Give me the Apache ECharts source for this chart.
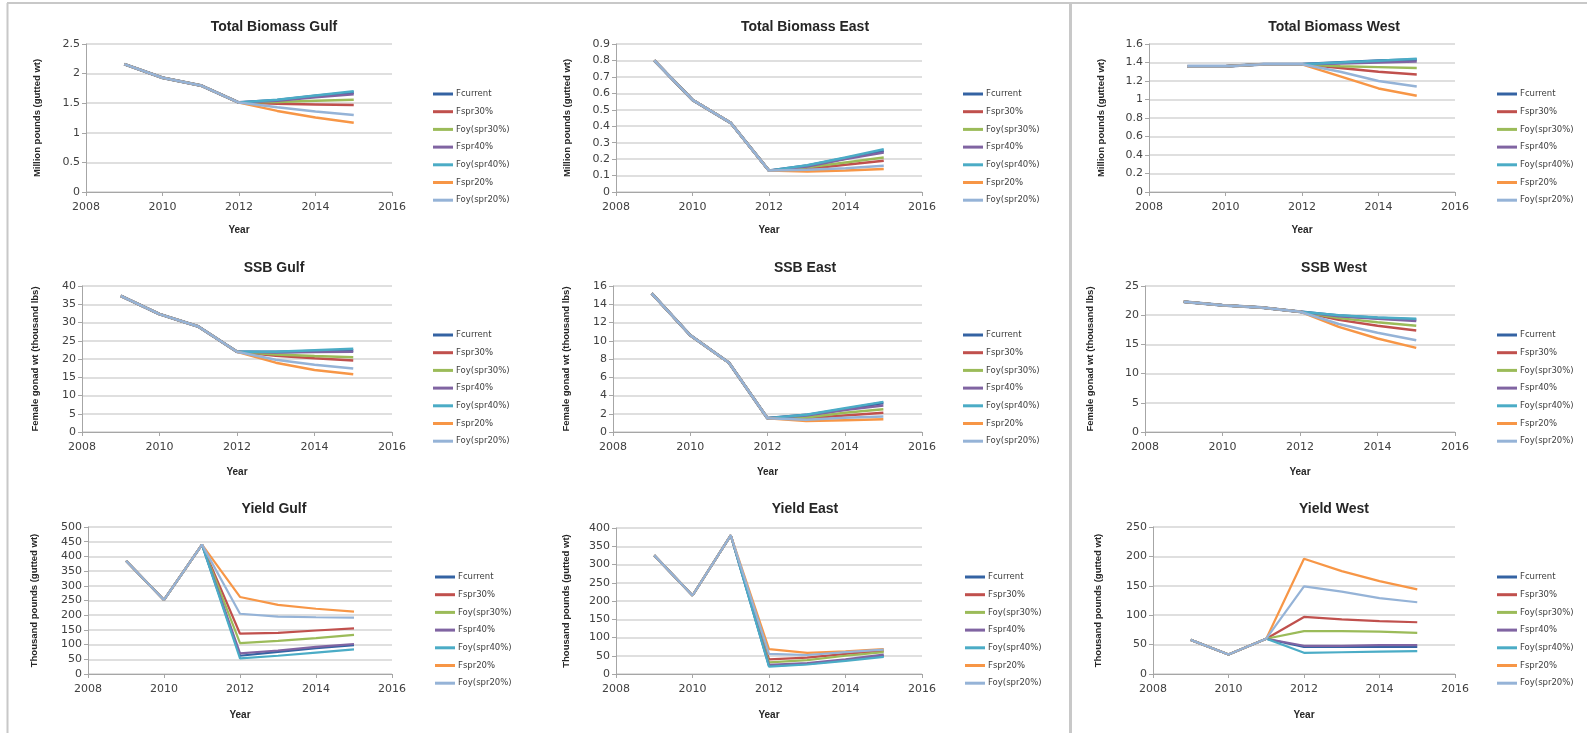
<!DOCTYPE html>
<html>
<head>
<meta charset="utf-8">
<script src="https://cdn.jsdelivr.net/npm/echarts@6/dist/echarts.min.js"></script>
<style>
html,body{margin:0;padding:0;background:#fff;}
#chart{width:1587px;height:733px;}
</style>
</head>
<body>
<div id="chart"></div>
<script>
// ---------- DATA ----------
const years = [2009, 2010, 2011, 2012, 2013, 2014, 2015];
const seriesNames = ['Fcurrent', 'Fspr30%', 'Foy(spr30%)', 'Fspr40%', 'Foy(spr40%)', 'Fspr20%', 'Foy(spr20%)'];
const xTicks = [2008, 2010, 2012, 2014, 2016];

// rows follow seriesNames order; columns follow years
const totalBiomassGulf = [
  [2.16, 1.93, 1.80, 1.51, 1.55, 1.62, 1.68],
  [2.16, 1.93, 1.80, 1.51, 1.49, 1.48, 1.47],
  [2.16, 1.93, 1.80, 1.51, 1.52, 1.54, 1.56],
  [2.16, 1.93, 1.80, 1.51, 1.54, 1.60, 1.65],
  [2.16, 1.93, 1.80, 1.51, 1.56, 1.63, 1.70],
  [2.16, 1.93, 1.80, 1.51, 1.37, 1.26, 1.17],
  [2.16, 1.93, 1.80, 1.51, 1.43, 1.36, 1.30]
];
const totalBiomassEast = [
  [0.80, 0.56, 0.42, 0.13, 0.160, 0.205, 0.25],
  [0.80, 0.56, 0.42, 0.13, 0.140, 0.165, 0.19],
  [0.80, 0.56, 0.42, 0.13, 0.150, 0.180, 0.21],
  [0.80, 0.56, 0.42, 0.13, 0.155, 0.200, 0.24],
  [0.80, 0.56, 0.42, 0.13, 0.163, 0.210, 0.26],
  [0.80, 0.56, 0.42, 0.13, 0.125, 0.130, 0.14],
  [0.80, 0.56, 0.42, 0.13, 0.135, 0.145, 0.16]
];
const totalBiomassWest = [
  [1.36, 1.36, 1.38, 1.38, 1.40, 1.42, 1.43],
  [1.36, 1.36, 1.38, 1.38, 1.34, 1.30, 1.27],
  [1.36, 1.36, 1.38, 1.38, 1.36, 1.35, 1.34],
  [1.36, 1.36, 1.38, 1.38, 1.39, 1.40, 1.41],
  [1.36, 1.36, 1.38, 1.38, 1.40, 1.42, 1.44],
  [1.36, 1.36, 1.38, 1.38, 1.25, 1.12, 1.04],
  [1.36, 1.36, 1.38, 1.38, 1.30, 1.20, 1.14]
];
const ssbGulf = [
  [37.3, 32.3, 28.9, 22.0, 21.9, 22.1, 22.3],
  [37.3, 32.3, 28.9, 22.0, 20.9, 20.2, 19.6],
  [37.3, 32.3, 28.9, 22.0, 21.2, 20.8, 20.5],
  [37.3, 32.3, 28.9, 22.0, 21.8, 21.9, 22.0],
  [37.3, 32.3, 28.9, 22.0, 22.0, 22.4, 22.8],
  [37.3, 32.3, 28.9, 22.0, 19.0, 17.0, 15.8],
  [37.3, 32.3, 28.9, 22.0, 19.8, 18.4, 17.4]
];
const ssbEast = [
  [15.2, 10.6, 7.6, 1.5, 1.85, 2.5, 3.2],
  [15.2, 10.6, 7.6, 1.5, 1.50, 1.8, 2.1],
  [15.2, 10.6, 7.6, 1.5, 1.60, 2.1, 2.5],
  [15.2, 10.6, 7.6, 1.5, 1.80, 2.4, 2.9],
  [15.2, 10.6, 7.6, 1.5, 1.90, 2.6, 3.3],
  [15.2, 10.6, 7.6, 1.5, 1.20, 1.3, 1.4],
  [15.2, 10.6, 7.6, 1.5, 1.35, 1.55, 1.7]
];
const ssbWest = [
  [22.3, 21.7, 21.3, 20.6, 19.9, 19.5, 19.2],
  [22.3, 21.7, 21.3, 20.6, 19.2, 18.2, 17.4],
  [22.3, 21.7, 21.3, 20.6, 19.5, 18.8, 18.2],
  [22.3, 21.7, 21.3, 20.6, 19.8, 19.4, 19.0],
  [22.3, 21.7, 21.3, 20.6, 20.0, 19.6, 19.4],
  [22.3, 21.7, 21.3, 20.6, 18.0, 16.0, 14.4],
  [22.3, 21.7, 21.3, 20.6, 18.5, 17.0, 15.7]
];
const yieldGulf = [
  [385, 252, 440, 62, 75, 88, 98],
  [385, 252, 440, 137, 140, 148, 155],
  [385, 252, 440, 105, 113, 122, 133],
  [385, 252, 440, 70, 80, 92, 102],
  [385, 252, 440, 53, 62, 73, 84],
  [385, 252, 440, 262, 235, 222, 212],
  [385, 252, 440, 205, 195, 193, 192]
];
const yieldEast = [
  [325, 215, 380, 22, 28, 38, 50],
  [325, 215, 380, 40, 45, 55, 64],
  [325, 215, 380, 32, 38, 50, 60],
  [325, 215, 380, 25, 30, 40, 53],
  [325, 215, 380, 20, 26, 36, 47],
  [325, 215, 380, 68, 58, 62, 68],
  [325, 215, 380, 55, 52, 60, 67]
];
const yieldWest = [
  [58, 33, 60, 46, 46, 46, 46],
  [58, 33, 60, 97, 93, 90, 88],
  [58, 33, 60, 73, 73, 72, 70],
  [58, 33, 60, 48, 48, 49, 49],
  [58, 33, 60, 36, 37, 38, 39],
  [58, 33, 60, 196, 175, 158, 144],
  [58, 33, 60, 149, 140, 129, 122]
];

// ---------- STYLE / LAYOUT ----------
const colors = ['#3463A3', '#C0504D', '#9BBB59', '#8064A2', '#4BACC6', '#F79646', '#95B3D7'];

const panels = [
  {title:'Total Biomass Gulf', tx:269, ty:15, data:totalBiomassGulf, yName:'Million pounds (gutted wt)', max:2.5, interval:0.5,
   grid:{left:86, top:44, width:306, height:148}, nameGap:44, yearGap:33, lx:428, ly:84, lw:2.5},
  {title:'Total Biomass East', tx:800, ty:15, data:totalBiomassEast, yName:'Million pounds (gutted wt)', max:0.9, interval:0.1,
   grid:{left:616, top:44, width:306, height:148}, nameGap:44, yearGap:33, lx:958, ly:84, lw:2.5},
  {title:'Total Biomass West', tx:1329, ty:15, data:totalBiomassWest, yName:'Million pounds (gutted wt)', max:1.6, interval:0.2,
   grid:{left:1149, top:44, width:306, height:148}, nameGap:43, yearGap:33, lx:1492, ly:84, lw:2.5},
  {title:'SSB Gulf', tx:269, ty:256, data:ssbGulf, yName:'Female gonad wt (thousand lbs)', max:40, interval:5,
   grid:{left:82, top:286, width:310, height:146}, nameGap:42, yearGap:35, lx:428, ly:325, lw:2.5},
  {title:'SSB East', tx:800, ty:256, data:ssbEast, yName:'Female gonad wt (thousand lbs)', max:16, interval:2,
   grid:{left:613, top:286, width:309, height:146}, nameGap:42, yearGap:35, lx:958, ly:325, lw:2.5},
  {title:'SSB West', tx:1329, ty:256, data:ssbWest, yName:'Female gonad wt (thousand lbs)', max:25, interval:5,
   grid:{left:1145, top:286, width:310, height:146}, nameGap:50, yearGap:35, lx:1492, ly:325, lw:2.5},
  {title:'Yield Gulf', tx:269, ty:497, data:yieldGulf, yName:'Thousand pounds (gutted wt)', max:500, interval:50,
   grid:{left:88, top:527, width:304, height:147}, nameGap:49, yearGap:36, lx:430, ly:567, lw:2.2},
  {title:'Yield East', tx:800, ty:497, data:yieldEast, yName:'Thousand pounds (gutted wt)', max:400, interval:50,
   grid:{left:616, top:528, width:306, height:146}, nameGap:45, yearGap:36, lx:960, ly:567, lw:2.2},
  {title:'Yield West', tx:1329, ty:497, data:yieldWest, yName:'Thousand pounds (gutted wt)', max:250, interval:50,
   grid:{left:1153, top:527, width:302, height:147}, nameGap:50, yearGap:36, lx:1492, ly:567, lw:2.2}
];

const option = {
  animation: false,
  backgroundColor: '#ffffff',
  title: [], grid: [], xAxis: [], yAxis: [], legend: [], series: [],
  graphic: [
    {type:'line', shape:{x1:7, y1:3, x2:1587, y2:3}, style:{stroke:'#c8c8c8', lineWidth:2}},
    {type:'line', shape:{x1:7.5, y1:3, x2:7.5, y2:733}, style:{stroke:'#c8c8c8', lineWidth:2}},
    {type:'line', shape:{x1:1070.5, y1:3, x2:1070.5, y2:733}, style:{stroke:'#c8c8c8', lineWidth:3}}
  ]
};

panels.forEach((p, i) => {
  option.title.push({
    text: p.title, left: p.tx, top: p.ty, textAlign: 'center',
    textStyle: {fontFamily:'Liberation Sans', fontWeight:'bold', fontSize:14, color:'#262626'}
  });
  option.grid.push(Object.assign({containLabel:false}, p.grid));
  option.xAxis.push({
    type:'value', gridIndex:i, min:xTicks[0], max:xTicks[xTicks.length-1], interval:2,
    name:'Year', nameLocation:'middle', nameGap:p.yearGap,
    nameTextStyle:{fontFamily:'Liberation Sans', fontWeight:'bold', fontSize:10, color:'#262626'},
    axisLine:{show:true, lineStyle:{color:'#a6a6a6', width:1}},
    axisTick:{show:true, length:4, lineStyle:{color:'#a6a6a6'}},
    splitLine:{show:false},
    axisLabel:{fontFamily:'DejaVu Sans', fontSize:11, color:'#404040', margin:10, formatter: v => String(v)}
  });
  option.yAxis.push({
    type:'value', gridIndex:i, min:0, max:p.max, interval:p.interval,
    name:p.yName, nameLocation:'middle', nameGap:p.nameGap, nameRotate:90,
    nameTextStyle:{fontFamily:'Liberation Sans', fontWeight:'bold', fontSize:9.5, color:'#262626'},
    axisLine:{show:true, lineStyle:{color:'#a6a6a6', width:1}},
    axisTick:{show:true, length:4, lineStyle:{color:'#a6a6a6'}},
    splitLine:{show:true, lineStyle:{color:'#d4d4d4', width:1.5}},
    axisLabel:{fontFamily:'DejaVu Sans', fontSize:11, color:'#404040', margin:6}
  });
  option.legend.push({
    orient:'vertical', left:p.lx, top:p.ly, data:seriesNames.slice(),
    icon:'rect', itemWidth:20, itemHeight:3, itemGap:7.7,
    selectedMode:false,
    textStyle:{fontFamily:'DejaVu Sans', fontSize:8.5, color:'#404040', lineHeight:10, padding:[0,0,0,-2]}
  });
  p.data.forEach((row, s) => {
    option.series.push({
      type:'line', name:seriesNames[s], xAxisIndex:i, yAxisIndex:i,
      data: years.map((y, k) => [y, row[k]]),
      showSymbol:false, symbol:'none',
      lineStyle:{color:colors[s], width:(s === 0 && i < 6) ? 3 : p.lw},
      itemStyle:{color:colors[s]},
      emphasis:{disabled:true}
    });
  });
});

const chart = echarts.init(document.getElementById('chart'));
chart.setOption(option);
</script>
</body>
</html>
